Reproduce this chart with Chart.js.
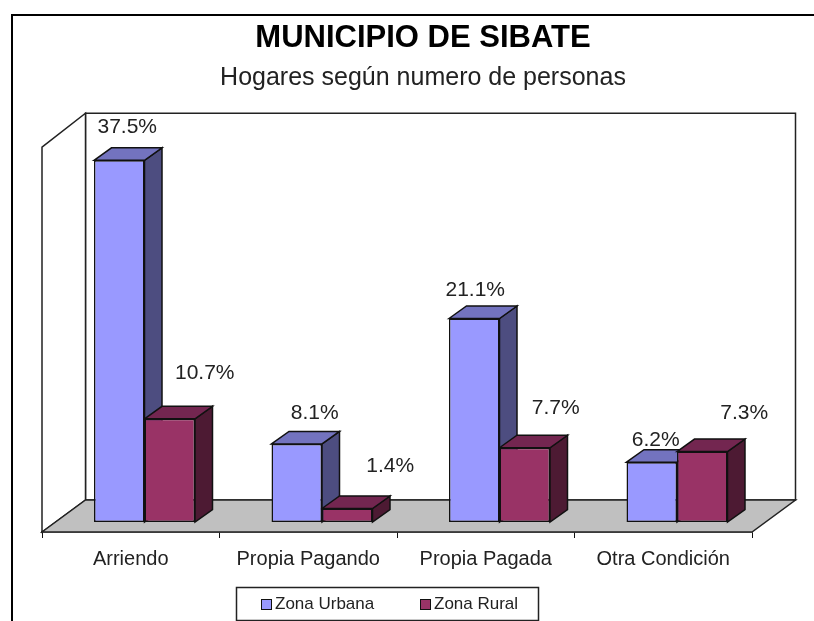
<!DOCTYPE html>
<html lang="es">
<head>
<meta charset="UTF-8">
<title>Municipio de Sibate</title>
<script src="https://cdn.jsdelivr.net/npm/chart.js"></script>
<style>
    html, body { margin: 0; background: #fff; overflow: hidden; }
    #page { position: relative; width: 814px; height: 621px; overflow: hidden; }
    #frame { position: absolute; left: 11px; top: 14px; width: 900px; height: 800px; border: 2px solid #000; }
    #wrap { position: absolute; left: 0; top: 0; width: 846px; height: 621px; }
</style>
</head>
<body>
<div id="page">
    <div id="frame"></div>
    <div id="wrap"><canvas id="chart" width="846" height="621"></canvas></div>
</div>
<script>
const categories = ['Arriendo', 'Propia Pagando', 'Propia Pagada', 'Otra Condición'];
const zonaUrbana = [37.5, 8.1, 21.1, 6.2];
const zonaRural = [10.7, 1.4, 7.7, 7.3];

// colores: frente, lado, tapa
const urbanaColors = ['#9999ff', '#4d4d80', '#7373bf'];
const ruralColors = ['#993366', '#4d1a33', '#732650'];

// las etiquetas del original estan movidas a mano: desplazamiento desde el tope de cada barra
const urbanaLabelShift = [[8, -33], [18, -31], [1, -28], [4, -22]];
const ruralLabelShift = [[35, -46], [43, -42], [31, -40], [42, -38]];

const BAR_SHIFT = 13.75;   // las barras van en el medio del piso
const BAR_DX = 17.5, BAR_DY = -12.5;
const WALL_DX = 43.5;
const LINE = '#222';

function poly(ctx, pts, fill) {
    ctx.beginPath();
    pts.forEach((p, i) => i ? ctx.lineTo(p[0], p[1]) : ctx.moveTo(p[0], p[1]));
    ctx.closePath();
    if (fill) { ctx.fillStyle = fill; ctx.fill(); }
    ctx.stroke();
}

const chartBox3d = {
    id: 'box3d',
    beforeDatasetsDraw(chart) {
        const ctx = chart.ctx, a = chart.chartArea;
        ctx.save();
        ctx.strokeStyle = LINE;
        ctx.lineWidth = 1.5;
        const backTop = a.top - 34, backBottom = a.bottom - 32;
        poly(ctx, [[a.left + WALL_DX, backTop], [a.right + WALL_DX, backTop], [a.right + WALL_DX, backBottom], [a.left + WALL_DX, backBottom]], '#fff');
        poly(ctx, [[a.left, a.top], [a.left + WALL_DX, backTop], [a.left + WALL_DX, backBottom], [a.left, a.bottom]], '#fff');
        poly(ctx, [[a.left, a.bottom], [a.left + WALL_DX, backBottom], [a.right + WALL_DX, backBottom], [a.right, a.bottom]], '#c0c0c0');
        ctx.restore();

        // lados y tapas de las barras, primero la urbana
        ctx.save();
        ctx.translate(BAR_SHIFT, 0);
        ctx.strokeStyle = '#111';
        ctx.lineWidth = 1.5;
        [urbanaColors, ruralColors].forEach((colors, d) => {
            chart.getDatasetMeta(d).data.forEach(bar => {
                const l = bar.x - bar.width / 2, r = bar.x + bar.width / 2;
                poly(ctx, [[r, bar.y], [r + BAR_DX, bar.y + BAR_DY], [r + BAR_DX, bar.base + BAR_DY], [r, bar.base]], colors[1]);
                poly(ctx, [[l, bar.y], [l + BAR_DX, bar.y + BAR_DY], [r + BAR_DX, bar.y + BAR_DY], [r, bar.y]], colors[2]);
            });
        });
    },
    afterDatasetsDraw(chart) {
        const ctx = chart.ctx;
        ctx.restore();   // quita el translate de las barras

        ctx.save();
        ctx.fillStyle = '#222';
        ctx.font = '21px "Liberation Sans"';
        ctx.textAlign = 'center';
        ctx.textBaseline = 'middle';
        [urbanaLabelShift, ruralLabelShift].forEach((shift, d) => {
            chart.getDatasetMeta(d).data.forEach((bar, i) => {
                const value = chart.data.datasets[d].data[i];
                ctx.fillText(value.toFixed(1) + '%', bar.x + BAR_SHIFT + shift[i][0], bar.y + shift[i][1]);
            });
        });
        ctx.restore();
    },
    afterDraw(chart) {
        // leyenda con recuadro, sale de los datasets
        const ctx = chart.ctx;
        ctx.save();
        ctx.strokeStyle = '#222';
        ctx.lineWidth = 1.5;
        ctx.strokeRect(236.5, 587.5, 302, 33);
        ctx.font = '17px "Liberation Sans"';
        ctx.textBaseline = 'middle';
        const starts = [261.5, 420.5];
        chart.data.datasets.forEach((ds, i) => {
            ctx.fillStyle = ds.backgroundColor;
            ctx.strokeStyle = '#111';
            ctx.lineWidth = 1;
            ctx.fillRect(starts[i], 599.5, 10, 10);
            ctx.strokeRect(starts[i], 599.5, 10, 10);
            ctx.fillStyle = '#222';
            ctx.fillText(ds.label, starts[i] + 13.5, 604.5);
        });
        ctx.restore();
    }
};

new Chart(document.getElementById('chart'), {
    type: 'bar',
    data: {
        labels: categories,
        datasets: [
            { label: 'Zona Urbana', data: zonaUrbana, backgroundColor: urbanaColors[0], borderColor: '#111', borderWidth: 1.5, borderSkipped: false },
            { label: 'Zona Rural', data: zonaRural, backgroundColor: ruralColors[0], borderColor: '#111', borderWidth: 1.5, borderSkipped: false }
        ]
    },
    options: {
        responsive: false,
        animation: false,
        categoryPercentage: 0.569,
        barPercentage: 1,
        layout: { padding: { left: 42, right: 42, bottom: 41 } },
        plugins: {
            legend: { display: false },
            tooltip: { enabled: false },
            title: {
                display: true,
                text: 'MUNICIPIO DE SIBATE',
                color: '#000',
                font: { family: '"Liberation Sans"', size: 31, weight: 'bold', lineHeight: 1.2 },
                padding: { top: 20, bottom: 0 }
            },
            subtitle: {
                display: true,
                text: 'Hogares según numero de personas',
                color: '#222',
                font: { family: '"Liberation Sans"', size: 25, weight: 'normal', lineHeight: 1.2 },
                padding: { top: 6, bottom: 54 }
            }
        },
        scales: {
            x: {
                offset: true,
                border: { color: '#111', width: 1.5 },
                grid: { offset: true, drawOnChartArea: false, tickLength: 6, tickColor: '#111' },
                ticks: {
                    color: '#222',
                    padding: 9,
                    maxRotation: 0,
                    font: { family: '"Liberation Sans"', size: 20 }
                }
            },
            y: { display: false, min: -1.036, max: 38.86 },
            // solo reserva el margen derecho, asi el titulo queda centrado como en el original
            yRight: {
                position: 'right',
                afterFit(scale) { scale.width = 52; },
                ticks: { display: false },
                grid: { display: false },
                border: { display: false }
            }
        }
    },
    plugins: [chartBox3d]
});
</script>
</body>
</html>
